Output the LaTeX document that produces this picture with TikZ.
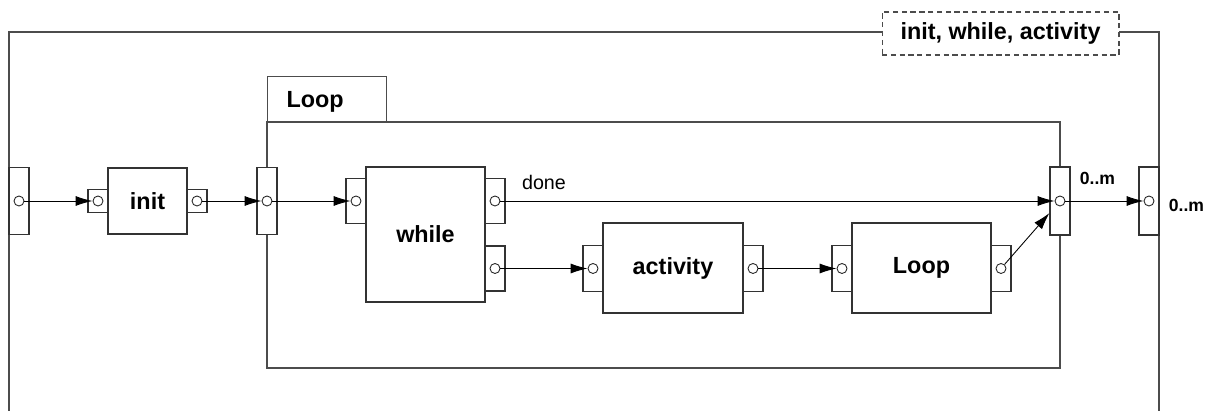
\documentclass[tikz,border=0pt]{standalone}
\usepackage{fontspec}
\setmainfont{Liberation Sans}
\usetikzlibrary{arrows.meta}

\begin{document}
\begin{tikzpicture}[x=0.02cm, y=-0.02cm,
    box/.style={draw=black!80, line width=0.6pt, fill=white, inner sep=0pt, font=\fontsize{13.3}{16}\selectfont\bfseries},
    port/.style={draw=black!80, line width=0.6pt, fill=white, inner sep=0pt, minimum width=0.4cm},
    pin/.style={circle, draw=black!85, line width=0.5pt, fill=white, inner sep=0pt, minimum size=0.2cm},
    frame/.style={draw=black!70, line width=0.6pt},
    flow/.style={-{Latex[length=0.34cm, width=0.2cm]}, line width=0.5pt},
    mult/.style={font=\fontsize{10}{12}\selectfont\bfseries, inner sep=0pt}]
    \useasboundingbox (0,0) rectangle (1218,411);

    \draw[frame] (9,411) -- (9,32) -- (1159,32) -- (1159,411);
    \node[box, draw=black!70, dash pattern=on 3pt off 2pt, minimum width=4.74cm, minimum height=0.86cm] (title) at (1000.5,33.5) {init, while, activity};

    \draw[frame] (267,122) rectangle (1060,368);
    \node[box, draw=black!70, anchor=south west, minimum height=0.9cm, text width=1.62cm, inner xsep=0.38cm, text depth=0pt, align=left] (looptab) at (267,122) {Loop};

    \node[port, minimum height=1.34cm] (olport) at (19,201) {};
    \node[pin] (olpin) at (19,201) {};

    \node[box, minimum width=1.58cm, minimum height=1.32cm] (init) at (147.5,201) {init};
    \node[port, minimum height=0.46cm] (iniport) at (98,201) {};
    \node[pin] (inipin) at (98,201) {};
    \node[port, minimum height=0.46cm] (inoport) at (197,201) {};
    \node[pin] (inopin) at (197,201) {};

    \node[port, minimum height=1.34cm] (llport) at (267,201) {};
    \node[pin] (llpin) at (267,201) {};

    \node[box, minimum width=2.38cm, minimum height=2.7cm] (while) at (425.5,234.5) {while};
    \node[port, minimum height=0.9cm] (wiport) at (356,201) {};
    \node[pin] (wipin) at (356,201) {};
    \node[port, minimum height=0.9cm] (wdport) at (495,201) {};
    \node[pin] (wdpin) at (495,201) {};
    \node[port, minimum height=0.9cm] (wnport) at (495,268.5) {};
    \node[pin] (wnpin) at (495,268.5) {};
    \node[font=\fontsize{11.2}{13}\selectfont, inner sep=0pt] (done) at (544,182) {done};

    \node[box, minimum width=2.8cm, minimum height=1.8cm] (activity) at (673,268) {activity};
    \node[port, minimum height=0.92cm] (aiport) at (593,268.5) {};
    \node[pin] (aipin) at (593,268.5) {};
    \node[port, minimum height=0.92cm] (aoport) at (753,268.5) {};
    \node[pin] (aopin) at (753,268.5) {};

    \node[box, minimum width=2.78cm, minimum height=1.8cm] (loop) at (921.5,268) {Loop};
    \node[port, minimum height=0.92cm] (liport) at (842,268.5) {};
    \node[pin] (lipin) at (842,268.5) {};
    \node[port, minimum height=0.92cm] (loport) at (1001,268.5) {};
    \node[pin] (lopin) at (1001,268.5) {};

    \node[port, minimum height=1.36cm] (lrport) at (1060,201) {};
    \node[pin] (lrpin) at (1060,201) {};
    \node[mult] (lrmult) at (1097.5,178) {0..m};

    \node[port, minimum height=1.36cm] (orport) at (1149,201) {};
    \node[pin] (orpin) at (1149,201) {};
    \node[mult] (ormult) at (1186.5,205) {0..m};

    \draw[flow] (olpin) -- (inipin);
    \draw[flow] (inopin) -- (llpin);
    \draw[flow] (llpin) -- (wipin);
    \draw[flow] (wdpin) -- (lrpin);
    \draw[flow] (wnpin) -- (aipin);
    \draw[flow] (aopin) -- (lipin);
    \draw[flow] (lopin) -- (lrport);
    \draw[flow] (lrpin) -- (orpin);
\end{tikzpicture}
\end{document}
